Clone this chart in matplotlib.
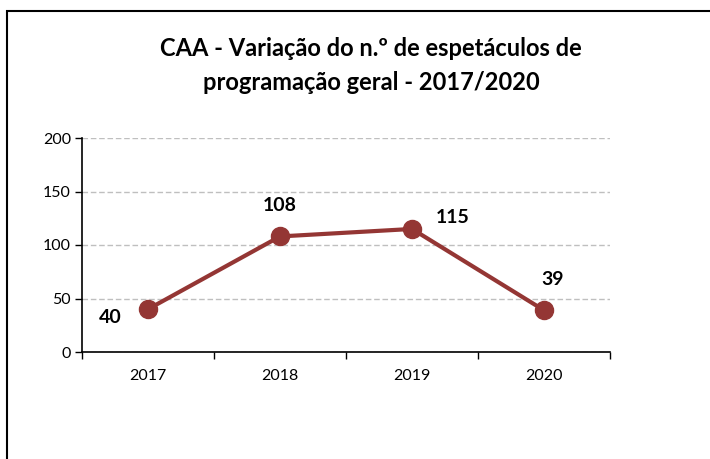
import matplotlib.pyplot as plt
import matplotlib.patches as mpatches

years = ['2017', '2018', '2019', '2020']
shows = [40, 108, 115, 39]
label_offsets = [(-27, -6), (0, 22), (29, 8), (6, 22)]
yticks = [0, 50, 100, 150, 200]

plt.rcParams['font.family'] = ['Lato', 'DejaVu Sans']
color = '#943634'

fig = plt.figure(figsize=(7.1, 4.59), dpi=100)
ax = fig.add_axes([82/710, 1-352/459, 528/710, 214/459])

x = list(range(len(years)))
ax.plot(x, shows, color=color, lw=3, marker='o', markersize=13, zorder=3)
for xi, v, (dx, dy) in zip(x, shows, label_offsets):
    ax.annotate(str(v), (xi, v), xytext=(dx, dy), textcoords='offset points',
                ha='center', va='center', fontsize=14, fontweight='bold')

ax.set_xlim(-0.5, len(years) - 0.5)
ax.set_ylim(0, 200)
ax.set_yticks(yticks)
ax.set_xticks(x)
ax.set_xticklabels(years)
ax.set_xticks([i - 0.5 for i in range(len(years) + 1)], minor=True)
ax.tick_params(axis='x', which='major', length=0, pad=12, labelsize=11.5)
ax.tick_params(axis='x', which='minor', length=5, direction='out', width=1)
ax.tick_params(axis='y', length=5, direction='out', width=1, labelsize=11.5, pad=3)
ax.yaxis.grid(True, color='#bfbfbf', ls=(0, (4, 2)), lw=1)
ax.set_axisbelow(True)
ax.spines['top'].set_visible(False)
ax.spines['right'].set_visible(False)
for s in ['left', 'bottom']:
    ax.spines[s].set_linewidth(1.2)

fig.text(371/710, 1-49/459, 'CAA - Variação do n.º de espetáculos de',
         ha='center', va='center', fontsize=17, fontweight='bold')
fig.text(371/710, 1-82/459, 'programação geral - 2017/2020',
         ha='center', va='center', fontsize=17, fontweight='bold')

fig.patches.append(mpatches.Rectangle((7/710, -0.1), 1.1, 1-11/459 + 0.1,
                   transform=fig.transFigure, fill=False, lw=1.5, ec='black'))

fig.savefig('out.png', dpi=100)
